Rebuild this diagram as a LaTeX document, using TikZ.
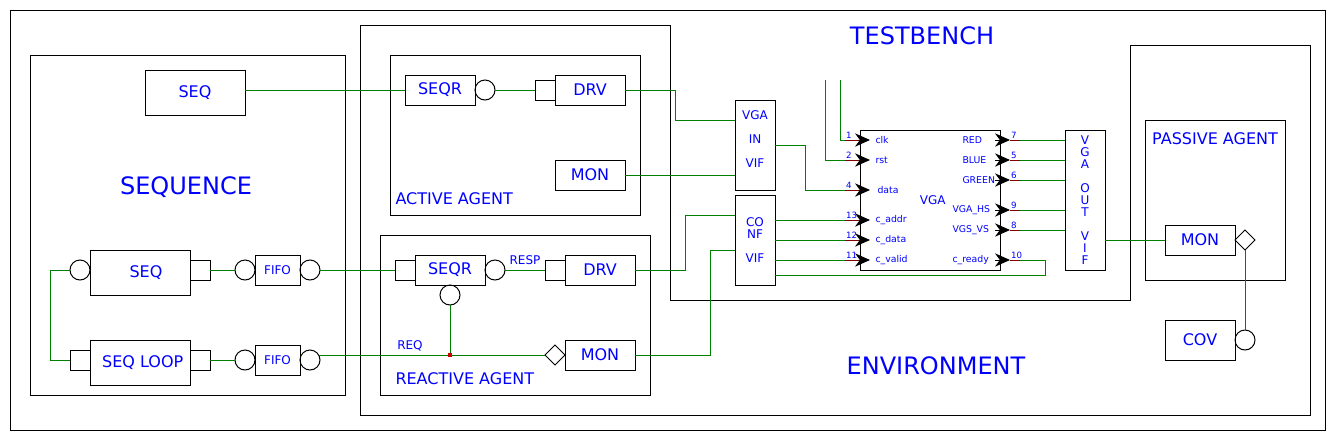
\documentclass[tikz,border=0pt]{standalone}
\usepackage{fontspec}
\setmainfont{DejaVu Sans}
\usetikzlibrary{arrows.meta,shapes.geometric,calc}
\definecolor{lblblue}{RGB}{0,0,255}
\definecolor{wiregreen}{RGB}{0,128,0}
\definecolor{pinred}{RGB}{128,0,0}
\definecolor{dotred}{RGB}{204,0,0}

\begin{document}
\begin{tikzpicture}[x=0.75pt, y=-0.75pt, line width=0.75pt,
    blk/.style={draw, rectangle, inner sep=0pt, outer sep=0pt, text=lblblue, font=\fontsize{12}{14}\selectfont},
    comp/.style={blk, minimum width=52.5pt, minimum height=22.5pt},
    fifo/.style={blk, minimum width=33.75pt, minimum height=22.5pt, font=\fontsize{9}{10}\selectfont},
    vif/.style={blk, minimum width=30pt, minimum height=67.5pt, align=center, font=\fontsize{9}{9}\selectfont},
    rport/.style={draw, circle, minimum size=15pt, inner sep=0pt, outer sep=0pt},
    sport/.style={draw, rectangle, minimum size=15pt, inner sep=0pt, outer sep=0pt},
    aport/.style={draw, diamond, minimum size=15pt, inner sep=0pt, outer sep=0pt},
    wire/.style={draw=wiregreen},
    title/.style={text=lblblue, font=\fontsize{18}{20}\selectfont, inner sep=0pt},
    caption/.style={text=lblblue, font=\fontsize{12}{14}\selectfont, inner sep=0pt},
    tag/.style={text=lblblue, font=\fontsize{9}{10}\selectfont, inner sep=0pt},
    pinlab/.style={text=lblblue, font=\fontsize{7}{8}\selectfont, inner sep=0pt},
    pinnum/.style={text=lblblue, font=\fontsize{6.5}{7}\selectfont, inner sep=0.5pt, anchor=south west},
    pin/.style={draw=pinred, -{Stealth[length=11.25pt, width=10pt, black]}},
    rpin/.style={-{Stealth[length=11.25pt, width=10pt]}}]
  \useasboundingbox (0,0) rectangle (1335,440);
  \draw (10,10) rectangle (1325,430);
  \draw (30,55) rectangle (345,395);
  \draw (360,25) -- (670,25) -- (670,300) -- (1130,300) -- (1130,45) -- (1310,45) -- (1310,415) -- (360,415) -- cycle;
  \draw (390,55) rectangle (640,215);
  \draw (380,235) rectangle (650,395);
  \draw (1145,120) rectangle (1285,280);

  \node[title] (testbench) at (922,36) {TESTBENCH};
  \node[title] (environment) at (936,366) {ENVIRONMENT};
  \node[title] (sequence) at (186,187) {SEQUENCE};
  \node[caption, anchor=west] (activetitle) at (395,199) {ACTIVE AGENT};
  \node[caption, anchor=west] (reactivetitle) at (395,379) {REACTIVE AGENT};
  \node[caption] (passivetitle) at (1215,139) {PASSIVE AGENT};

  \node[comp, minimum width=75pt, minimum height=33.75pt] (seqtop) at (195,92.5) {SEQ};
  \node[comp, minimum width=75pt, minimum height=33.75pt] (seqmid) at (140,272.5) {\hspace*{9pt}SEQ};
  \node[rport] (seqmidin) at (80,270) {};
  \node[sport] (seqmidout) at (200,270) {};
  \node[rport] (fifoain) at (245,270) {};
  \node[fifo] (fifoa) at (277.5,270) {FIFO};
  \node[rport] (fifoaout) at (310,270) {};
  \node[comp, minimum width=75pt, minimum height=33.75pt] (seqloop) at (140,362.5) {\hspace*{4pt}SEQ LOOP};
  \node[sport] (seqloopin) at (80,360) {};
  \node[sport] (seqloopout) at (200,360) {};
  \node[rport] (fifobin) at (245,360) {};
  \node[fifo] (fifob) at (277.5,360) {FIFO};
  \node[rport] (fifobout) at (310,360) {};

  \node[comp] (seqra) at (440,90) {SEQR};
  \node[rport] (seqraout) at (485,90) {};
  \node[sport] (drvain) at (545,90) {};
  \node[comp] (drva) at (590,90) {DRV};
  \node[comp] (mona) at (590,175) {MON};

  \node[comp] (seqrr) at (450,270) {SEQR};
  \node[sport] (seqrrin) at (405,270) {};
  \node[rport] (seqrrrsp) at (495,270) {};
  \node[rport] (seqrrreq) at (450,295) {};
  \node[sport] (drvrin) at (555,270) {};
  \node[comp] (drvr) at (600,270) {DRV};
  \node[aport] (monrin) at (555,355) {};
  \node[comp] (monr) at (600,355) {MON};
  \node[tag] (resp) at (525,260) {RESP};
  \node[tag] (req) at (410,346) {REQ};
  \coordinate (reqjoin) at (450,355);

  \node[vif] (vifin) at (755,145) {VGA\\[9pt]IN\\[9pt]VIF\\[0pt]\mbox{}};
  \node[vif] (vifcf) at (755,240) {CO\\NF\\[9pt]VIF};
  \node[vif, minimum height=105pt] (vifout) at (1085,200) {V\\G\\A\\[9pt]O\\U\\T\\[9pt]V\\I\\F};
  \node[blk, minimum size=105pt, font=\fontsize{9}{10}\selectfont] (vga) at (930,200) {\hspace*{4pt}VGA\\[-6pt]\mbox{}};

  \node[comp] (monp) at (1200,240) {MON};
  \node[aport] (monpout) at (1245,240) {};
  \node[comp, minimum height=30pt] (cov) at (1200,340) {COV};
  \node[rport] (covin) at (1245,340) {};

  \foreach \n/\yy/\xx/\lab in {1/140/875/clk, 2/160/875/rst, 4/190/877/data, 13/220/875/c\_addr, 12/240/875/c\_data, 11/260/875/c\_valid} {
    \coordinate (p\n) at (845,\yy);
    \draw[pin] (p\n) -- (870,\yy);
    \node[pinnum] (ln\n) at (845,\yy) {\n};
    \node[pinlab, anchor=west] (lt\n) at (\xx,\yy) {\lab};
  }
  \foreach \n/\yy/\xx/\lab in {7/140/962/RED, 5/160/962/BLUE, 6/180/962/GREEN, 9/210/952/VGA\_HS, 8/230/952/VGS\_VS, 10/260/952/c\_ready} {
    \coordinate (q\n) at (1020,\yy);
    \draw[pinred] (1010,\yy) -- (q\n);
    \draw[rpin] (995,\yy) -- (1010,\yy);
    \node[pinnum] (rn\n) at (1010,\yy) {\n};
    \node[pinlab, anchor=west] (rt\n) at (\xx,\yy) {\lab};
  }
  \coordinate (clkin) at (840,80);
  \coordinate (rstin) at (825,80);

  \draw[wire] (seqtop.east |- seqra.west) -- (seqra.west);
  \draw[wire] (seqraout.east) -- (drvain.west);
  \draw[wire] (drva.east) -- ++(50,0) |- ($(vifin.west)+(0,-25)$);
  \draw[wire] (mona.east) -- (mona.east -| vifin.west);
  \draw[wire] (seqmidout.east) -- (fifoain.west);
  \draw[wire] (fifoaout.east) -- (seqrrin.west);
  \draw[wire] (seqmidin.west) -- ++(-20,0) |- (seqloopin.west);
  \draw[wire] (seqloopout.east) -- (fifobin.west);
  \draw[wire] (fifobout.30) -- (fifobout.30 -| monrin.west);
  \draw[wire] (seqrrreq.south) -- (reqjoin);
  \node[fill=dotred, minimum size=3pt, inner sep=0pt] (reqdot) at (reqjoin) {};
  \draw[wire] (seqrrrsp.east) -- (drvrin.west);
  \draw[wire] (drvr.east) -- ++(50,0) |- ($(vifcf.west)+(0,-25)$);
  \draw[wire] (monr.east) -- ++(75,0) |- ($(vifcf.west)+(0,10)$);
  \draw[wire] (vifin.east) -- ++(30,0) |- (p4);
  \draw[wire] (clkin) |- (p1);
  \draw[wire] (rstin) |- (p2);
  \foreach \n in {13,12,11}
    \draw[wire] (p\n -| vifcf.east) -- (p\n);
  \foreach \n in {7,5,6,9,8}
    \draw[wire] (q\n) -- (q\n -| vifout.west);
  \draw[wire] (q10) -- ++(25,0) |- ($(vifcf.south east)+(0,-10)$);
  \draw[wire] (vifout.east |- monp.west) -- (monp.west);
  \draw[wire] (monpout.south) -- (covin.north);
\end{tikzpicture}
\end{document}
